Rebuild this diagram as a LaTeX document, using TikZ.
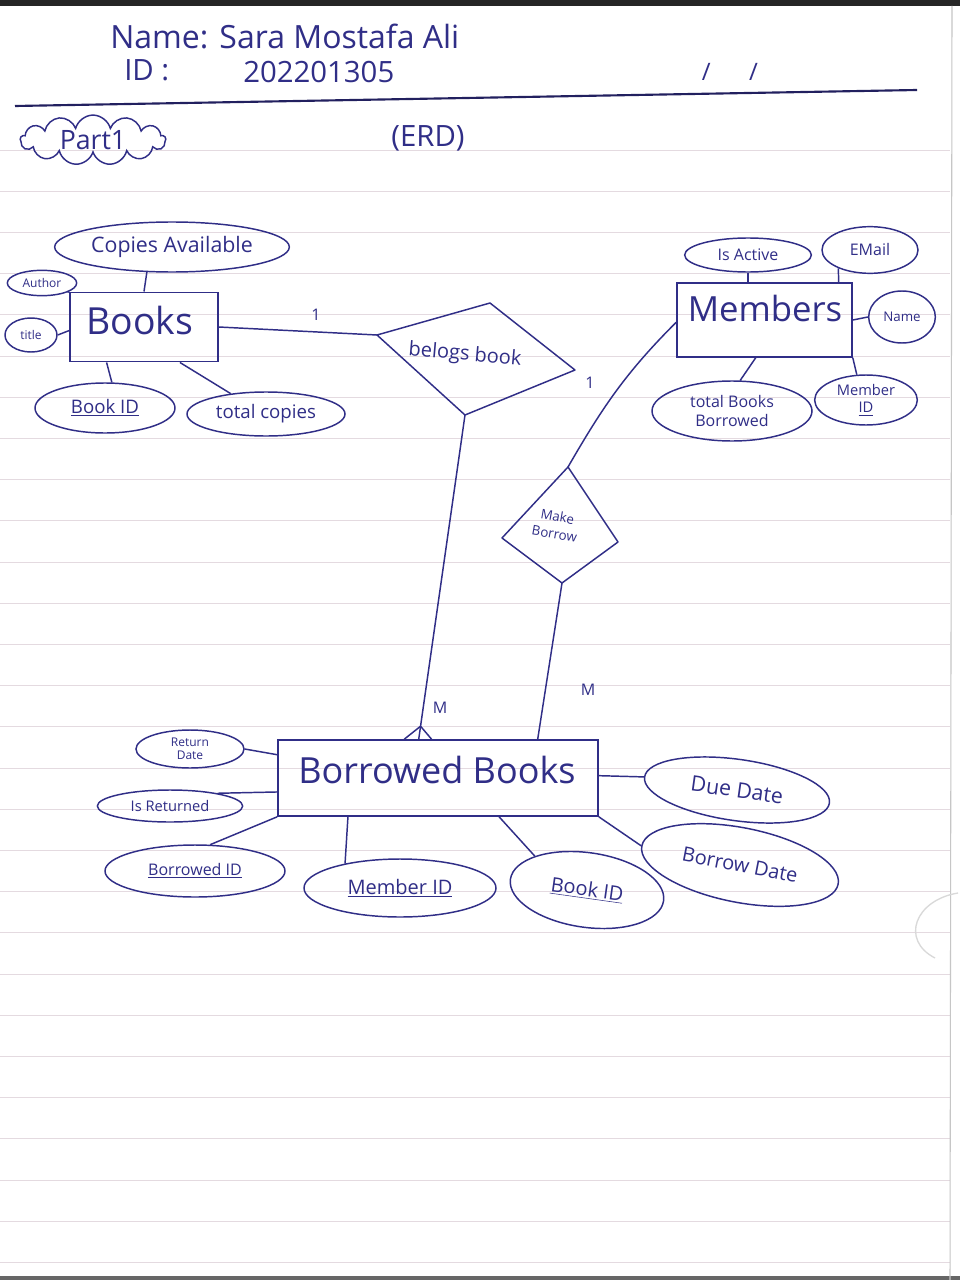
\documentclass[tikz,border=0pt]{standalone}
\usepackage{fontspec}
\setmainfont{Open Sans}
\usetikzlibrary{shapes.geometric,shapes.symbols,calc}
\definecolor{ink}{RGB}{48,46,135}
\definecolor{paperline}{RGB}{228,218,224}
\newcommand{\fs}[1]{\fontsize{#1}{#1}\selectfont}
\begin{document}
\begin{tikzpicture}[x=0.75pt,y=-0.75pt,
  every node/.style={text=ink},
  ent/.style={draw=ink, line width=1.2pt, rectangle, inner sep=0pt},
  attr/.style={draw=ink, ellipse, line width=1.1pt, inner sep=0pt, align=center},
  rel/.style={draw=ink, line width=1.1pt, line join=round},
  conn/.style={draw=ink, line width=1.1pt},
  lbl/.style={text=ink, inner sep=0pt}
]
\useasboundingbox (0,0) rectangle (960,1280);
\fill[white] (0,0) rectangle (960,1280);
% paper
\foreach \i in {0,...,27}
  \draw[paperline, line width=0.6pt] (0,{150+41.2*\i}) -- (950,{150+41.2*\i});
\fill[black!85] (0,0) rectangle (960,6);
\fill[black!60] (0,1276) rectangle (960,1280);
\draw[gray!45, line width=0.8pt] (952,6) -- (950,1280);
\draw[gray!30, line width=1pt] (958,893) .. controls (915,900) and (900,940) .. (935,958);

% header
\node[lbl, anchor=west, font=\fs{24}] (name) at (110,36) {Name: Sara Mostafa Ali};
\node[lbl, anchor=west, font=\fs{22}] (idl) at (124,70) {ID :};
\node[lbl, anchor=west, font=\fs{22}] (idnum) at (243,72) {202201305};
\node[lbl, font=\fs{18}] (date) at (730,72) {/\hspace{1.6em}/};
\draw[ink!70!black, line width=1.6pt] (15,106) -- (917,90);
\node[cloud, draw=ink, line width=1.1pt, cloud puffs=13, aspect=2.8,
      minimum width=109pt, minimum height=37pt, inner sep=0pt, font=\fs{20}] (part) at (93,140) {Part1};
\node[lbl, font=\fs{22}] (erd) at (428,138) {(ERD)};

% Books
\node[ent, minimum width=111pt, minimum height=52pt] (books) at (144,327) {};
\node[lbl, font=\fs{28}] (bookst) at (140,320) {Books};
\node[attr, minimum width=176pt, minimum height=37.5pt, font=\fs{16}] (copies) at (172,247) {Copies Available};
\node[attr, minimum width=52pt, minimum height=19pt, font=\fs{9}] (author) at (42,283) {Author};
\node[attr, minimum width=39pt, minimum height=25.5pt, font=\fs{9}] (title) at (31,335) {title};
\node[attr, minimum width=105pt, minimum height=37.5pt, font=\fs{14}] (bookid) at (105,408) {\underline{Book ID}};
\node[attr, minimum width=118.5pt, minimum height=33pt, font=\fs{14}] (total) at (266,414) {total copies};
\draw[conn] (copies.-135) -- (books.north);
\draw[conn] (author.-20) -- (books.north west);
\draw[conn] (title.east) -- ($(books.north west)!0.55!(books.south west)$);
\draw[conn] (bookid.75) -- ($(books.south west)!0.25!(books.south east)$);
\draw[conn] (total.150) -- ($(books.south west)!0.74!(books.south east)$);

% Members
\node[ent, minimum width=131.25pt, minimum height=55.5pt] (members) at (764.5,320) {};
\node[lbl, font=\fs{26}] (memberst) at (765,308) {Members};
\node[attr, minimum width=95pt, minimum height=25.5pt, font=\fs{12}] (isactive) at (748,255) {Is Active};
\node[attr, minimum width=72pt, minimum height=35pt, font=\fs{12}] (email) at (870,250) {EMail};
\node[attr, minimum width=50pt, minimum height=39pt, font=\fs{10}] (mname) at (902,317) {Name};
\node[attr, minimum width=120pt, minimum height=45pt, font=\fs{12}] (tbb) at (732,411) {total Books\\[2pt] Borrowed};
\node[attr, minimum width=77pt, minimum height=37.5pt, font=\fs{11}] (memid) at (866,400) {Member\\[2pt] \underline{ID}};
\draw[conn] (isactive.south) -- (isactive.south |- members.north);
\draw[conn] (email.-150) -- ($(members.north west)!0.92!(members.north east)$);
\draw[conn] (mname.west) -- (members.east);
\draw[conn] (tbb.75) -- ($(members.south west)!0.45!(members.south east)$);
\draw[conn] (memid.110) -- (members.south east);

% Borrowed Books
\node[ent, minimum width=240pt, minimum height=57pt] (bb) at (438,778) {};
\node[lbl, font=\fs{27}] (bbt) at (437,770) {Borrowed Books};
\node[attr, minimum width=81pt, minimum height=28.5pt, font=\fs{9}] (retdate) at (190,749) {Return\\[1pt] Date};
\node[attr, minimum width=109pt, minimum height=24pt, font=\fs{11}] (isret) at (170,806) {Is Returned};
\node[attr, minimum width=135pt, minimum height=39pt, font=\fs{12}] (borid) at (195,871) {\underline{Borrowed ID}};
\node[attr, minimum width=144pt, minimum height=43.5pt, font=\fs{15}] (bmemid) at (400,888) {\underline{Member ID}};
\node[attr, minimum width=116pt, minimum height=56pt, font=\fs{15}, rotate=-8] (bbookid) at (587,890) {\underline{Book ID}};
\node[attr, minimum width=140pt, minimum height=46pt, font=\fs{16}, rotate=-8] (duedate) at (737,790) {Due Date};
\node[attr, minimum width=150pt, minimum height=56pt, font=\fs{15}, rotate=-11] (bordate) at (740,865) {Borrow Date};
\draw[conn] (retdate.east) -- ($(bb.north west)!0.2!(bb.south west)$);
\draw[conn] (isret.15) -- ($(bb.north west)!0.68!(bb.south west)$);
\draw[conn] (borid.60) -- (bb.south west);
\draw[conn] (bmemid.156) -- ($(bb.south west)!0.22!(bb.south east)$);
\draw[conn] (bbookid.155) -- ($(bb.south west)!0.69!(bb.south east)$);
\draw[conn] (duedate.west) -- ($(bb.north east)!0.47!(bb.south east)$);
\draw[conn] (bordate.west) -- (bb.south east);

% relationship: belogs book
\coordinate (blt) at (490,303);
\coordinate (bll) at (377,335);
\coordinate (blr) at (575,370);
\coordinate (blb) at (465,415);
\draw[rel] (blt) -- (blr) -- (blb) -- (bll) -- cycle;
\node[lbl, font=\fs{15}, rotate=-5] (belogs) at (465,355) {belogs book};
\draw[conn] (books.east) -- (bll);
\node[lbl, font=\fs{12}] (one1) at (316,315) {1};
\coordinate (bbtop1) at ($(bb.north west)!0.44!(bb.north east)$);
\draw[conn] (blb) -- (bbtop1);
\coordinate (cf) at ($(blb)!0.96!(bbtop1)$);
\draw[conn] ($(bb.north west)!0.395!(bb.north east)$) -- (cf) -- ($(bb.north west)!0.48!(bb.north east)$);
\node[lbl, font=\fs{12}] (m1) at (440,708) {M};

% relationship: Make Borrow
\coordinate (mbt) at (568,467);
\coordinate (mbl) at (502,538);
\coordinate (mbr) at (618,542);
\coordinate (mbb) at (562,583);
\draw[rel] (mbt) -- (mbr) -- (mbb) -- (mbl) -- cycle;
\node[lbl, font=\fs{10}, rotate=-10, align=center] (makeb) at (556,525) {Make\\[3pt] Borrow};
\coordinate (mleft) at ($(members.north west)!0.53!(members.south west)$);
\draw[conn] (mleft) to[out=225, in=60] (mbt);
\node[lbl, font=\fs{12}] (one2) at (590,383) {1};
\draw[conn] (mbb) -- ($(bb.north west)!0.81!(bb.north east)$);
\node[lbl, font=\fs{12}] (m2) at (588,690) {M};
\end{tikzpicture}
\end{document}
